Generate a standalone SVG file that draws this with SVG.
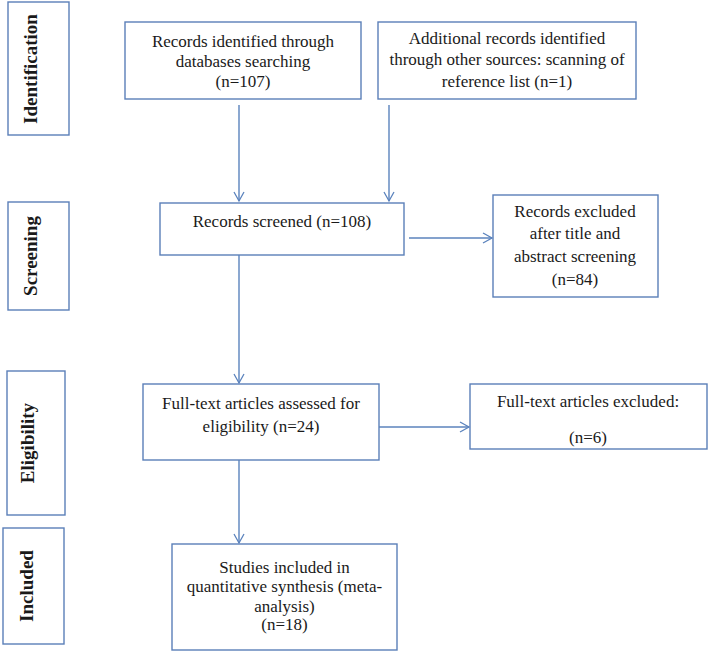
<svg xmlns="http://www.w3.org/2000/svg" width="709" height="653" viewBox="0 0 709 653">
<defs>
<marker id="ah" markerWidth="12" markerHeight="12" refX="10" refY="6" orient="auto" markerUnits="userSpaceOnUse">
<path d="M1,1 L10,6 L1,11" fill="none" stroke="#5b83bd" stroke-width="1.3"/>
</marker>
<style>
.box{fill:#fff;stroke:#5b7fb8;stroke-width:1.4}
.t{font-family:"Liberation Serif","Times New Roman",serif;font-size:17px;fill:#1a1a1a;text-anchor:middle}
.lab{font-family:"Liberation Serif","Times New Roman",serif;font-size:19px;font-weight:bold;fill:#1a1a1a;text-anchor:middle}
.c{stroke:#5b83bd;stroke-width:1.4;fill:none;marker-end:url(#ah)}
</style>
</defs>
<rect width="709" height="653" fill="#fff"/>
<g id="stage-identification"><rect class="box" x="8" y="2" width="61" height="133"/><text class="lab" transform="translate(37,69) rotate(-90)">Identification</text></g>
<g id="stage-screening"><rect class="box" x="8" y="202" width="61" height="108"/><text class="lab" transform="translate(37,256) rotate(-90)">Screening</text></g>
<g id="stage-eligibility"><rect class="box" x="7" y="371" width="58" height="144"/><text class="lab" transform="translate(34,443) rotate(-90)">Eligibility</text></g>
<g id="stage-included"><rect class="box" x="3" y="528" width="61" height="116"/><text class="lab" transform="translate(33,586) rotate(-90)">Included</text></g>
<g id="n-db"><rect class="box" x="125" y="22" width="236" height="77"/>
<text class="t" x="243" y="47">Records identified through</text>
<text class="t" x="243" y="67">databases searching</text>
<text class="t" x="243" y="87">(n=107)</text></g>
<g id="n-other"><rect class="box" x="378" y="22" width="258" height="77"/>
<text class="t" x="507" y="44">Additional records identified</text>
<text class="t" x="507" y="65">through other sources: scanning of</text>
<text class="t" x="507" y="87">reference list (n=1)</text></g>
<g id="n-screened"><rect class="box" x="160" y="203" width="244" height="52"/>
<text class="t" x="282" y="227">Records screened (n=108)</text></g>
<g id="n-excluded"><rect class="box" x="493" y="195" width="165" height="102"/>
<text class="t" x="575" y="217">Records excluded</text>
<text class="t" x="575" y="239">after title and</text>
<text class="t" x="575" y="262">abstract screening</text>
<text class="t" x="575" y="285">(n=84)</text></g>
<g id="n-fulltext"><rect class="box" x="143" y="384" width="236" height="76"/>
<text class="t" x="261" y="409">Full-text articles assessed for</text>
<text class="t" x="261" y="432">eligibility (n=24)</text></g>
<g id="n-ftexcluded"><rect class="box" x="470" y="384" width="237" height="65"/>
<text class="t" x="588" y="407">Full-text articles excluded:</text>
<text class="t" x="588" y="443">(n=6)</text></g>
<g id="n-included"><rect class="box" x="172" y="544" width="225" height="106"/>
<text class="t" x="284.5" y="573">Studies included in</text>
<text class="t" x="284.5" y="592">quantitative synthesis (meta-</text>
<text class="t" x="284.5" y="612">analysis)</text>
<text class="t" x="284.5" y="630">(n=18)</text></g>
<g id="connectors">
<line class="c" x1="239" y1="105" x2="239" y2="201"/>
<line class="c" x1="389" y1="105" x2="389" y2="201"/>
<line class="c" x1="409" y1="238" x2="492" y2="238"/>
<line class="c" x1="239" y1="255" x2="239" y2="383"/>
<line class="c" x1="379" y1="427" x2="469" y2="427"/>
<line class="c" x1="239" y1="460" x2="239" y2="543"/>
</g>
</svg>
